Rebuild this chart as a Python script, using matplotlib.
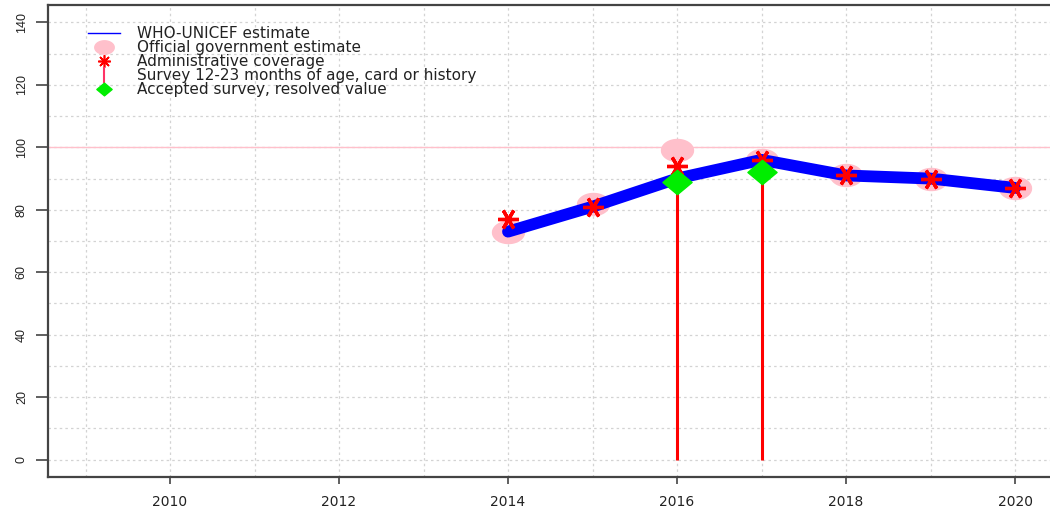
import numpy as np
import matplotlib
matplotlib.use("Agg")
import matplotlib.pyplot as plt
from matplotlib.path import Path
from matplotlib.lines import Line2D

years = [2014, 2015, 2016, 2017, 2018, 2019, 2020]
wuenic = [73, 81, 90, 96, 91, 90, 87]
official = [73, 82, 99, 96, 91, 90, 87]
admin = [77, 81, 94, 96, 91, 90, 87]
survey_years = [2016, 2017]
survey_values = [89, 92]
legend_labels = ["WHO-UNICEF estimate", "Official government estimate",
                 "Administrative coverage", "Survey 12-23 months of age, card or history",
                 "Accepted survey, resolved value"]

plt.rcParams['font.family'] = ['DejaVu Sans']

W, H = 1050, 511
fig = plt.figure(figsize=(W / 100, H / 100), dpi=100)
left, right, top, bottom = 48, 1050, 5, 477
ax = fig.add_axes([left / W, 1 - bottom / H, (right - left) / W, (bottom - top) / H])

x0 = 2008.556
x1 = 2010 + (right - 170) / 84.5
ax.set_xlim(x0, x1)
ax.set_ylim(-5.6, 145.6)

# grid
for yr in range(2009, 2021):
    ax.axvline(yr, color='#d3d3d3', lw=0.9, ls=(0, (2, 2.5)), zorder=0)
for v in range(0, 141, 10):
    ax.axhline(v, color='#d3d3d3', lw=0.9, ls=(0, (2, 2.5)), zorder=0)

ax.axhline(100, color='pink', lw=1.0, zorder=1)

# horizontally stretched markers
t = np.linspace(0, 2 * np.pi, 60)
ell = Path(np.column_stack([1.45 * np.cos(t), np.sin(t)]), closed=True)
dia = Path([(0, 1), (1.2, 0), (0, -1), (-1.2, 0), (0, 1)], closed=True)

ax.plot(years, official, ls='none', marker=ell, ms=23, color='pink', mec='pink', zorder=2)
ax.plot(years, wuenic, color='blue', lw=8.5, solid_capstyle='round', solid_joinstyle='round', zorder=3)
ax.vlines(survey_years, 0, survey_values, color='red', lw=2.2, zorder=4)
ax.plot(years, admin, ls='none', marker=(6, 2, 90), ms=15, mew=2.4, color='red', mec='red', zorder=5)
ax.plot(survey_years, survey_values, ls='none', marker=dia, ms=21, color='#00ee00', mec='#00ee00', zorder=6)

# spines
for s in ['top', 'left', 'bottom']:
    ax.spines[s].set_color('#444444')
    ax.spines[s].set_linewidth(1.6)
ax.spines['right'].set_visible(False)

ax.set_xticks([2010, 2012, 2014, 2016, 2018, 2020])
ax.set_yticks(range(0, 141, 20))
ax.tick_params(axis='x', length=5, width=1.2, color='#444444', pad=8, labelsize=10, labelcolor='#222222')
ax.tick_params(axis='y', length=8.5, width=1.2, color='#444444', pad=6, labelsize=9, labelcolor='#222222')
for lab in ax.get_yticklabels():
    lab.set_rotation(90)
    lab.set_va('center')
    lab.set_family('Liberation Sans')

handles = [
    Line2D([], [], color='blue', lw=1.0),
    Line2D([], [], ls='none', marker=ell, ms=14, color='pink'),
    Line2D([], [], ls='none', marker=(8, 2, 0), ms=9, mew=1.2, color='red'),
    Line2D([], [], ls='none', marker='|', ms=11, mew=1.5, color='#ff3366'),
    Line2D([], [], ls='none', marker=dia, ms=11, color='#00ee00'),
]
leg = ax.legend(handles, legend_labels, loc='upper left', frameon=False,
                bbox_to_anchor=((88 - left) / (right - left), 1 - (26 - top) / (bottom - top)),
                fontsize=11, handlelength=2.1, handletextpad=1.1, labelspacing=-0.06,
                borderaxespad=0, borderpad=0)
for txt in leg.get_texts():
    txt.set_color('#222222')

fig.savefig('out.png', dpi=100)
